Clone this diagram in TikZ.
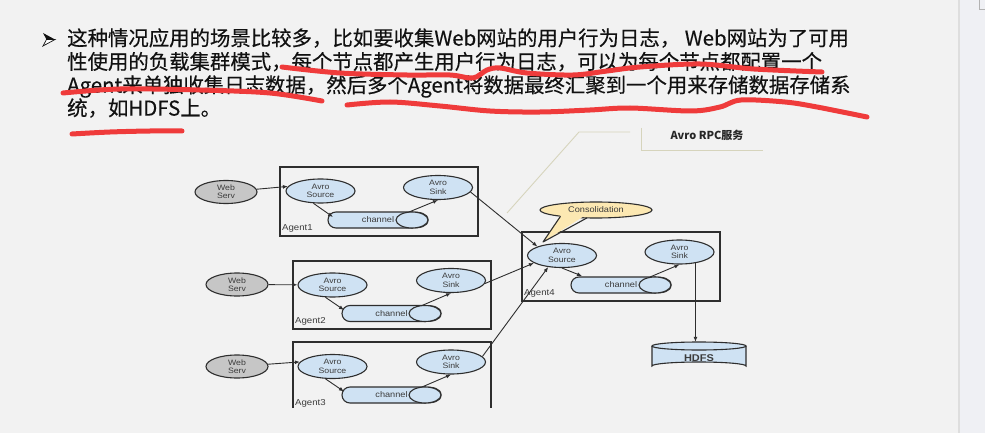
\documentclass[tikz,border=0pt]{standalone}
\usepackage{fontspec}
\setmainfont{Noto Sans CJK SC}
\newfontfamily\paraf[FakeBold=0.35]{Noto Sans CJK SC}
\newfontfamily\diag[FakeStretch=1.12]{Liberation Sans}
\usetikzlibrary{arrows.meta,calc,shapes.geometric}
\definecolor{bg}{HTML}{F2F2F2}
\definecolor{strip}{HTML}{EFF0F4}
\definecolor{dk}{HTML}{2E2E2E}
\definecolor{tx}{HTML}{3C3C3C}
\definecolor{blu}{HTML}{CFE2F3}
\definecolor{webfill}{HTML}{C6C6C6}
\definecolor{yel}{HTML}{FCE8B2}
\definecolor{redc}{HTML}{EF3B3B}
\definecolor{khaki}{HTML}{D6D4BC}
\definecolor{ink}{HTML}{111111}
\newcommand\chanbody[3]{% left, right, cy
  \draw[fill=blu,draw=dk,line width=1.1pt] ({#1+8},{#3-8}) -- ({#2-16},{#3-8}) to[out=0,in=90] (#2,#3) to[out=-90,in=0] ({#2-16},{#3+8}) -- ({#1+8},{#3+8}) to[out=180,in=-90] (#1,#3) to[out=90,in=180] ({#1+8},{#3-8}) -- cycle;
  \draw[fill=blu,draw=dk,line width=1.1pt] ({#2-16},#3) ellipse[x radius=16,y radius=8];
}
\tikzset{
  ell/.style={ellipse, draw=dk, line width=1.1pt, inner sep=0pt, align=center,
    font=\diag\fontsize{7.8}{8.4}\selectfont, text=tx},
  web/.style={ell, fill=webfill, minimum width=62pt, minimum height=23pt},
  avro/.style={ell, fill=blu, minimum width=69pt, minimum height=24pt},
  chantext/.style={rectangle, inner sep=0pt, minimum height=16pt, text=tx,
    font=\diag\fontsize{8.2}{8.4}\selectfont},
  agentbox/.style={draw=dk, line width=1.1pt},
  albl/.style={anchor=west, inner sep=0pt, text=tx, font=\diag\fontsize{8.6}{9}\selectfont},
  arr/.style={-{Latex[length=5pt,width=4pt]}, line width=0.9pt, draw=dk},
  redline/.style={draw=redc, line width=5pt, line cap=round, line join=round},
  annot/.style={draw=khaki, line width=0.9pt},
  para/.style={anchor=base west, inner sep=0pt, text=ink, font=\paraf\fontsize{20.4}{24}\selectfont},
}
\begin{document}
\begin{tikzpicture}[x=1pt,y=-1pt]
\useasboundingbox (0,0) rectangle (985,433);
\fill[bg] (0,0) rectangle (985,433);
\fill[strip] (959,0) rectangle (985,433);
\fill[black!13] (957.5,0) rectangle (960,433);
\draw[black!30, line width=0.8pt] (979.5,-2) -- (979.5,9.5) -- (990,9.5);

% bullet
\fill[ink] (43,33) -- (55,39.5) -- (46.5,39.5) -- cycle;
\draw[ink, fill=white, line width=0.7pt] (46.5,39.5) -- (55,39.5) -- (43,46) -- cycle;

% paragraph
\node[para] (l1) at (67,45.6) {这种情况应用的场景比较多，比如要收集Web网站的用户行为日志，\ Web网站为了可用};
\node[para] (l2) at (67,69.2) {性使用的负载集群模式，每个节点都产生用户行为日志，可以为每个节点都配置一个};
\node[para] (l3) at (67,92.6) {Agent来单独收集日志数据，然后多个Agent将数据最终汇聚到一个用来存储数据存储系};
\node[para] (l4) at (67,115.6) {统，如HDFS上。};

% red hand strokes
\draw[redline] plot[smooth, tension=0.55] coordinates {(282,67) (340,73) (407,75) (450,75) (473,78) (487,70) (500,68) (527,73) (573,75) (607,71) (640,67) (700,64) (754,69) (822,72)};
\draw[redline] plot[smooth, tension=0.55] coordinates {(63,93) (120,89) (200,90) (270,93) (322,101)};
\draw[redline] plot[smooth, tension=0.55] coordinates {(347,105) (390,102) (440,106) (490,111) (540,112) (590,110) (630,108) (691,111) (720,107) (741,100) (785,102) (817,107) (867,117)};
\draw[redline] plot[smooth, tension=0.55] coordinates {(72,134) (110,132) (150,131) (182,131)};

% annotation
\draw[annot] (507,213) -- (579,132) -- (630,132);
\draw[annot] (641,128) -- (641,150) -- (763,150);
\node[inner sep=0pt, text=black!85, font=\bfseries\fontsize{11}{12}\selectfont] (rpc) at (707,135) {Avro RPC服务};

% Agent 1
\draw[agentbox] (280,167) rectangle (478,236);
\node[albl] (a1) at (282,228.5) {Agent1};
\node[web] (w1) at (226,192) {Web\\Serv};
\node[avro] (s1) at (320.5,191) {Avro\\Source};
\node[avro] (k1) at (438,187.5) {Avro\\Sink};
\chanbody{328}{428}{220}
\node[chantext, minimum width=100pt] (c1) at (378,220) {channel\hspace{22pt}};
\coordinate (c1in) at (333,217);
\coordinate (c1out) at (409,212);

% Agent 2
\draw[agentbox] (293,261) rectangle (491,329);
\node[albl] (a2) at (295,321.5) {Agent2};
\node[web] (w2) at (237,284.5) {Web\\Serv};
\node[avro] (s2) at (332.5,285) {Avro\\Source};
\node[avro] (k2) at (451,280.5) {Avro\\Sink};
\chanbody{342}{441}{313.5}
\node[chantext, minimum width=99pt] (c2) at (391.5,313.5) {channel\hspace{22pt}};
\coordinate (c2in) at (344,310);
\coordinate (c2out) at (422,305.5);

% Agent 3
\draw[agentbox] (293,408) -- (293,342) -- (491,342) -- (491,408);
\node[albl] (a3) at (295,403) {Agent3};
\node[web] (w3) at (237,366.5) {Web\\Serv};
\node[avro] (s3) at (332.5,366.5) {Avro\\Source};
\node[avro] (k3) at (451,362) {Avro\\Sink};
\chanbody{342}{441}{395}
\node[chantext, minimum width=99pt] (c3) at (391.5,395) {channel\hspace{22pt}};
\coordinate (c3in) at (344,391.5);
\coordinate (c3out) at (422,387);

% Agent 4
\draw[agentbox] (522,232) rectangle (720,301);
\node[albl] (a4) at (524,293) {Agent4};
\node[avro] (s4) at (562,255.5) {Avro\\Source};
\node[avro] (k4) at (679.5,252) {Avro\\Sink};
\chanbody{571}{671}{285}
\node[chantext, minimum width=100pt] (c4) at (621,285) {channel\hspace{22pt}};
\coordinate (c4in) at (582,276);
\coordinate (c4out) at (650,277);

% consolidation callout
\node[ellipse, draw=dk, line width=1.1pt, fill=yel, minimum width=112pt, minimum height=16pt, inner sep=0pt, text=tx, font=\diag\fontsize{8.2}{8.4}\selectfont] (cons) at (596,210) {Consolidation};
\coordinate (tip) at (543,242);
\fill[yel] (562,213) -- (tip) -- (589,213) -- cycle;
\draw[dk, line width=1.1pt, line join=round] (560.5,216.3) -- (tip) -- (587,217.9);

% HDFS
\node[inner sep=0pt, minimum width=94pt, minimum height=28pt] (hd) at (699,356) {};
\draw[fill=blu, draw=dk, line width=1.1pt] (652,346) -- (652,366) arc[start angle=180, end angle=0, x radius=47, y radius=-4] -- (746,346);
\draw[fill=blu, draw=dk, line width=1.1pt] (699,346) ellipse[x radius=47, y radius=4];
\node[text=tx, font=\diag\bfseries\fontsize{9.8}{10}\selectfont] (hdl) at (699,358.5) {HDFS};

% connectors
\draw[arr] (w1) -- (s1.172);
\draw[arr] (s1.240) -- (c1in);
\draw[arr] (c1out) -- (k1.south);
\draw[arr] (w2) -- (s2);
\draw[arr] (s2.240) -- (c2in);
\draw[arr] (c2out) -- (k2.south);
\draw[arr] (w3) -- (s3.172);
\draw[arr] (s3.240) -- (c3in);
\draw[arr] (c3out) -- (k3.south);
\draw[arr] (s4.south) -- (c4in);
\draw[arr] (c4out) -- (k4.south);
\draw[arr] (k1.-8) -- (s4.160);
\draw[arr] (k2.-5) -- (s4.195);
\draw[arr] (k3.10) -- (s4.220);
\draw[arr] (k4.-35) -- (k4.-35 |- hd.north);
\end{tikzpicture}
\end{document}
